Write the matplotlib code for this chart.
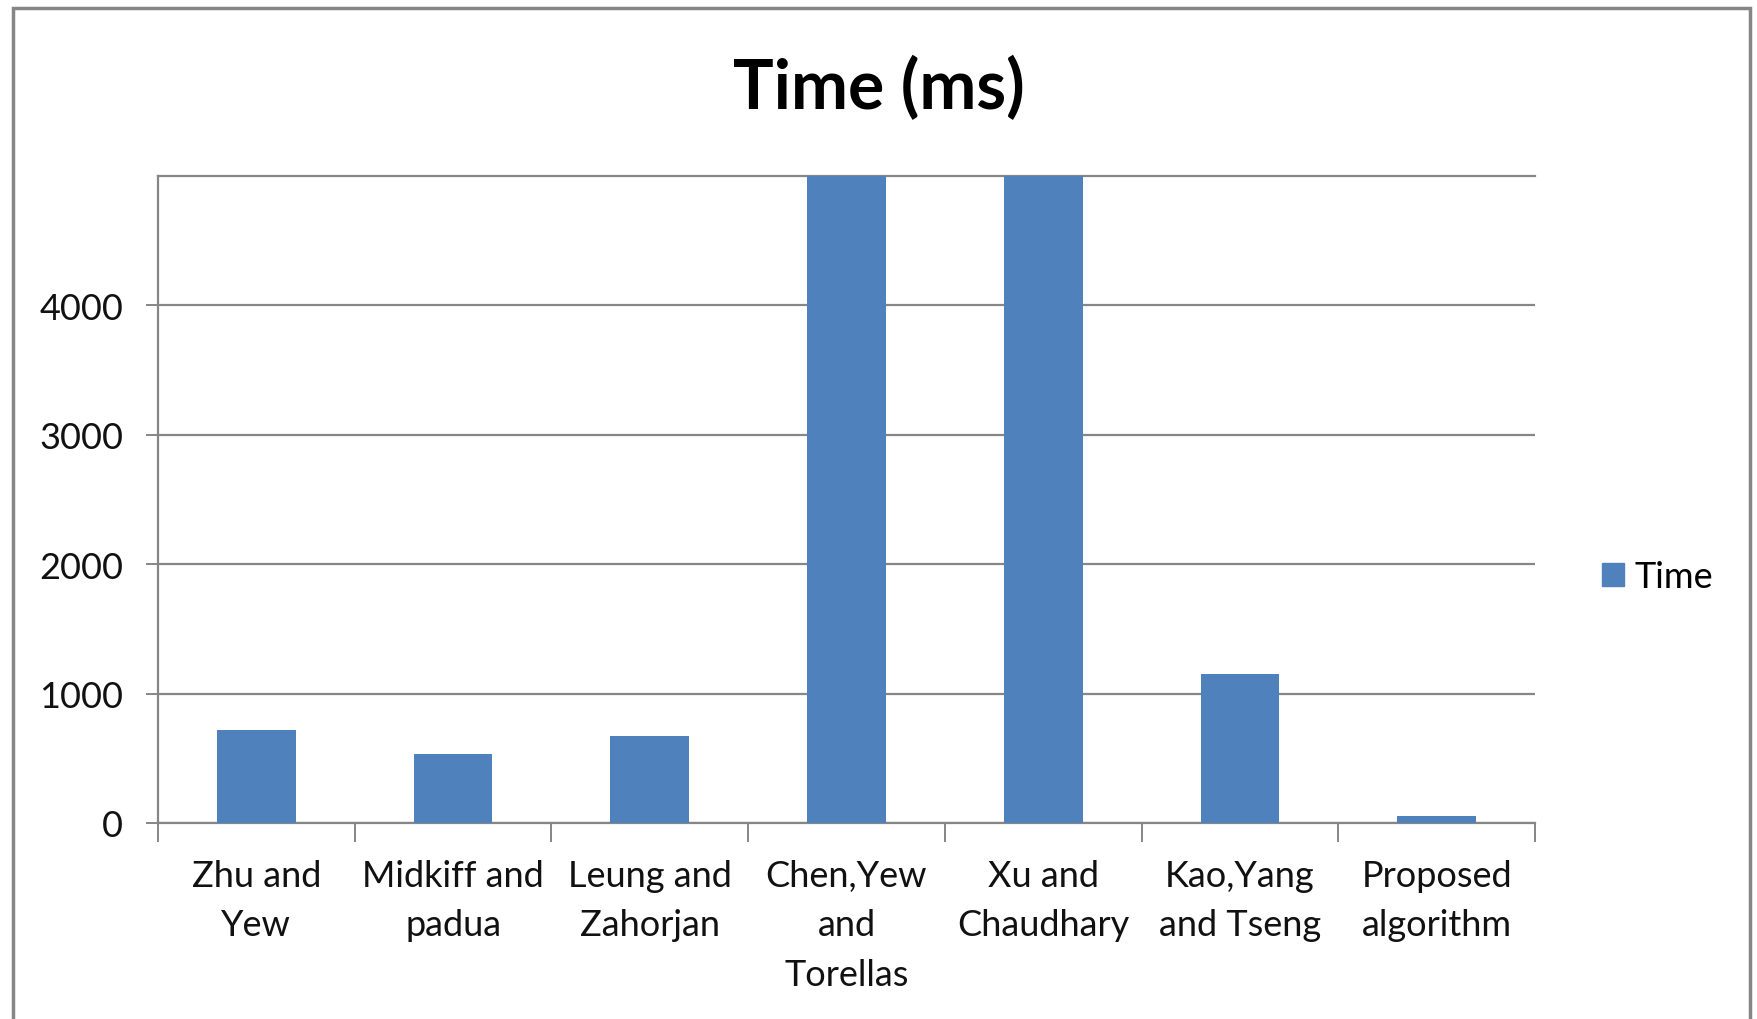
import numpy as np
import matplotlib.pyplot as plt
import matplotlib.patches as mpatches

# data (two bars run past the 5000 ceiling)
methods = ['Zhu and\nYew', 'Midkiff and\npadua', 'Leung and\nZahorjan',
           'Chen,Yew\nand\nTorellas', 'Xu and\nChaudhary', 'Kao,Yang\nand Tseng',
           'Proposed\nalgorithm']
times = [717, 535, 670, 8000, 8000, 1155, 52]
yticks = [0, 1000, 2000, 3000, 4000]

plt.rcParams['font.family'] = ['Lato', 'DejaVu Sans']
grey = '#868686'
bar_color = '#4F81BD'

fig = plt.figure(figsize=(17.58, 10.2), dpi=100)
ax = fig.add_axes([158 / 1758, 1 - 824 / 1020, (1535 - 158) / 1758, (824 - 177) / 1020])

x = np.arange(len(methods))
ax.bar(x, times, width=0.4, color=bar_color, label='Time', zorder=3)

ax.set_xlim(-0.5, len(methods) - 0.5)
ax.set_ylim(0, 5000)
ax.set_yticks(yticks)
ax.set_yticklabels([str(v) for v in yticks], fontsize=26, color='#111111')
ax.axhline(5000, color=grey, lw=1.6, zorder=1, clip_on=False)
ax.grid(axis='y', color=grey, lw=1.6, zorder=1)

ax.set_xticks(x)
ax.set_xticklabels(methods, fontsize=26, color='#111111', linespacing=1.6)
ax.set_xticks(np.arange(-0.5, len(methods)), minor=True)
ax.tick_params(axis='x', which='major', length=0, pad=26)
ax.tick_params(axis='x', which='minor', length=14, width=1.4, color=grey)
ax.tick_params(axis='y', length=9, width=1.4, color=grey, pad=16)

for s in ['top', 'right']:
    ax.spines[s].set_visible(False)
for s in ['left', 'bottom']:
    ax.spines[s].set_color(grey)
    ax.spines[s].set_linewidth(1.6)

fig.text(0.5, 1 - 88 / 1020, 'Time (ms)', ha='center', va='center',
         fontsize=49, fontweight='bold')

handle = mpatches.Patch(color=bar_color)
fig.legend([handle], ['Time'], loc='center left', bbox_to_anchor=(1570 / 1758, 1 - 578 / 1020),
           frameon=False, fontsize=26, handlelength=0.6, handleheight=0.6, handletextpad=0.3)

# outer chart frame
fig.patches.append(mpatches.Rectangle((13 / 1758, -0.01), (1750 - 13) / 1758, 1 - 9 / 1020 + 0.01,
                                      transform=fig.transFigure, fill=False,
                                      edgecolor=grey, lw=2.5))

fig.savefig('out.png', dpi=100)
